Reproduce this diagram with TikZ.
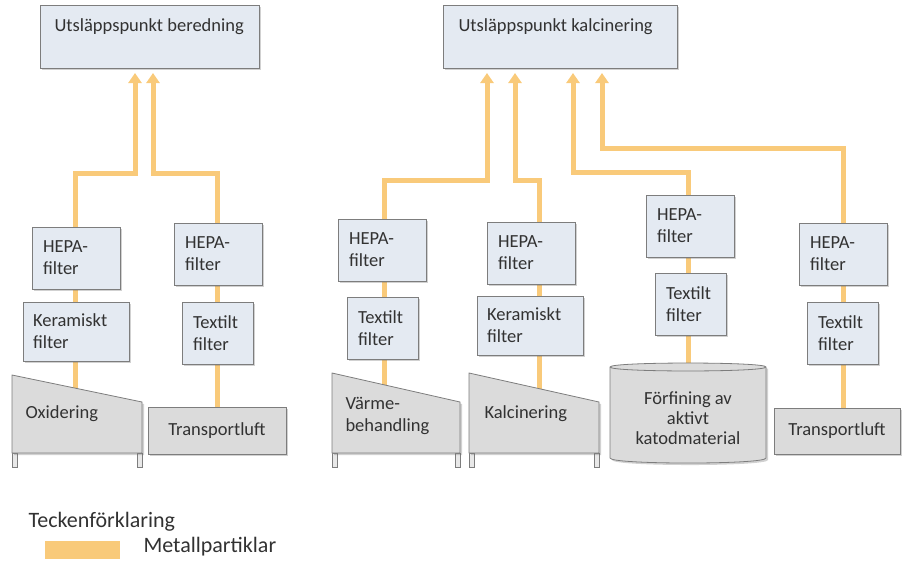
\documentclass[tikz,border=0pt]{standalone}
\usepackage{fontspec}
\setmainfont{Carlito}
\usetikzlibrary{arrows.meta,shadows}
\definecolor{boxfill}{RGB}{228,234,242}
\definecolor{boxline}{RGB}{125,125,125}
\definecolor{unitfill}{RGB}{219,219,219}
\definecolor{legfill}{RGB}{232,232,232}
\definecolor{flowc}{RGB}{249,202,122}
\definecolor{ink}{RGB}{50,50,50}
\pgfdeclarelayer{bg}
\pgfsetlayers{bg,main}

\begin{document}
\begin{tikzpicture}[x=1pt,y=-1pt,
  every node/.style={text=ink, font=\fontsize{18.5}{22}\selectfont},
  softshadow/.style={drop shadow={shadow xshift=2pt,shadow yshift=-2pt,opacity=0.3,fill=black!60}},
  fbox/.style={softshadow, draw=boxline, fill=boxfill, line width=0.8pt, rectangle,
    anchor=north west, align=left, inner xsep=11pt, inner ysep=0pt, outer sep=0pt},
  hepa/.style={fbox, text width=66pt, minimum height=62pt},
  tex/.style={fbox, text width=49pt, minimum height=62pt},
  ker/.style={fbox, inner xsep=10pt, text width=86pt, minimum height=59pt},
  topbox/.style={fbox, minimum height=63pt},
  unit/.style={softshadow, draw=boxline, fill=unitfill, line width=0.8pt},
  unitbox/.style={unit, rectangle, anchor=north west, align=center, outer sep=0pt},
  leg/.style={draw=boxline, fill=legfill, line width=0.8pt},
  flow/.style={draw=flowc, line width=5pt, -{Triangle[width=13pt,length=10pt]}, shorten >=5pt},
]
\useasboundingbox (0,0) rectangle (902,562);

% emission points
\node[topbox, minimum width=219pt] (top1) at (40,5) {};
\node[anchor=base west] (top1t) at (51,31) {Utsläppspunkt beredning};
\node[topbox, minimum width=234pt] (top2) at (443,5) {};
\node[anchor=base west] (top2t) at (455,31) {Utsläppspunkt kalcinering};

% filter stacks
\node[hepa] (hepaA) at (32,227) {HEPA-\\filter};
\node[ker]  (kerA)  at (23,302) {Keramiskt\\filter};
\node[hepa] (hepaB) at (174,223) {HEPA-\\filter};
\node[tex]  (texB)  at (182,302) {Textilt\\filter};
\node[hepa] (hepaC) at (338,219) {HEPA-\\filter};
\node[tex]  (texC)  at (347,297) {Textilt\\filter};
\node[hepa] (hepaD) at (487,222) {HEPA-\\filter};
\node[ker]  (kerD)  at (477,296) {Keramiskt\\filter};
\node[hepa] (hepaE) at (646,195) {HEPA-\\filter};
\node[tex]  (texE)  at (655,273) {Textilt\\filter};
\node[hepa] (hepaF) at (799,223) {HEPA-\\filter};
\node[tex]  (texF)  at (807,302) {Textilt\\filter};

% process units: furnaces
\path[leg] (12,453) rectangle (17,467) (137,453) rectangle (142,467);
\path[unit] (12,375) -- (142,402) -- (142,453) -- (12,453) -- cycle;
\node[anchor=base west] (oxidt) at (22,418) {Oxidering};
\coordinate (oxid) at (75,430);

\path[leg] (332,453) rectangle (337,467) (455,453) rectangle (460,467);
\path[unit] (332,373) -- (460,402) -- (460,453) -- (332,453) -- cycle;
\node[anchor=base west, align=left] (varmet) at (342,431) {Värme-\\behandling};
\coordinate (varme) at (384,430);

\path[leg] (469,453) rectangle (474,467) (594,453) rectangle (599,467);
\path[unit] (469,373) -- (599,402) -- (599,453) -- (469,453) -- cycle;
\node[anchor=base west] (kalct) at (481,418) {Kalcinering};
\coordinate (kalc) at (539,430);

% refining vessel
\path[unit] (610,367) -- (610,458) .. controls (610,464.7) and (766,464.7) .. (766,458)
  -- (766,367) .. controls (766,361.7) and (610,361.7) .. (610,367) -- cycle;
\draw[draw=boxline, line width=0.8pt] (610,367) .. controls (610,372.3) and (766,372.3) .. (766,367);
\node[align=center, font=\fontsize{18.5}{20}\selectfont] (cylt) at (688,418) {Förfining av\\aktivt\\katodmaterial};
\coordinate (cyl) at (688,420);

% transport air
\node[unitbox, minimum width=138pt, minimum height=47pt] (transA) at (148,407) {Transportluft};
\node[unitbox, minimum width=126pt, minimum height=46pt] (transF) at (774,408) {Transportluft};
\coordinate (srcF) at (843,430);

% flow junctions
\coordinate (jA) at (135,173);
\coordinate (jB) at (153,173);
\coordinate (jC) at (487,180);
\coordinate (jD) at (515,180);
\coordinate (jE) at (573,172);
\coordinate (jF) at (602,148);

\begin{pgfonlayer}{bg}
\draw[flow] (oxid) |- (jA) -- (jA |- top1.south);
\draw[flow] (transA) |- (jB) -- (jB |- top1.south);
\draw[flow] (varme) |- (jC) -- (jC |- top2.south);
\draw[flow] (kalc) |- (jD) -- (jD |- top2.south);
\draw[flow] (cyl) |- (jE) -- (jE |- top2.south);
\draw[flow] (srcF) |- (jF) -- (jF |- top2.south);
\end{pgfonlayer}

% legend
\node[anchor=base west, font=\fontsize{22}{26}\selectfont] (legt) at (25,527) {Teckenförklaring};
\node[fill=flowc, minimum width=75pt, minimum height=18pt, anchor=north west, inner sep=0pt] (legsw) at (45,541) {};
\node[anchor=base west, font=\fontsize{22}{26}\selectfont] (legm) at (140,552) {Metallpartiklar};
\end{tikzpicture}
\end{document}
